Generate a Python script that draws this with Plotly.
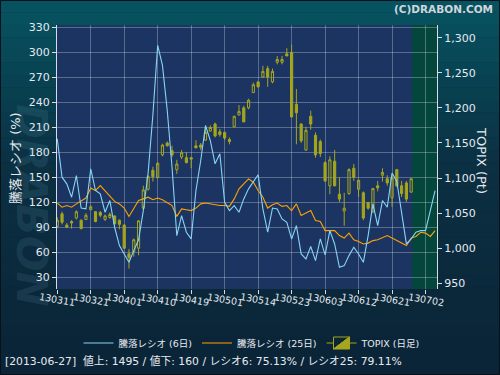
import plotly.graph_objects as go

# ---------------- data ----------------
tick_labels = ["130311", "130321", "130401", "130410", "130419", "130501",
               "130514", "130523", "130603", "130612", "130621", "130702"]
tick_index = [0, 7, 14, 21, 28, 35, 42, 49, 56, 63, 70, 77]

ratio6 = [196, 150, 142, 126, 152, 113, 112, 160, 134, 130, 108, 122, 90, 68, 58, 48,
          62, 75, 110, 155, 225, 308, 284, 230, 162, 80, 104, 84, 76, 134, 170, 212,
          194, 166, 178, 120, 110, 116, 108, 124, 136, 145, 153, 112, 84, 113, 112, 100,
          96, 76, 92, 58, 52, 67, 50, 76, 57, 86, 70, 42, 44, 56, 66, 58, 48, 80,
          118, 92, 122, 114, 155, 145, 110, 70, 76, 84, 86, 86, 110, 134]

ratio25 = [119, 114, 116, 114, 118, 121, 125, 137, 134, 140, 134, 128, 121, 118, 113, 103,
           112, 122, 124, 126, 123, 125, 123, 120, 116, 103, 112, 111, 110, 113, 118, 119,
           118, 117, 116, 116, 115, 124, 136, 142, 148, 144, 134, 126, 113, 117, 119, 115,
           116, 110, 118, 104, 107, 110, 98, 97, 86, 86, 86, 80, 77, 83, 75, 73, 70, 71,
           74, 75, 78, 80, 77, 74, 71, 68, 77, 79, 84, 83, 79, 86]

topix_open = [1031, 1049, 1033, 1038, 1043, 1040, 1041, 1055, 1052, 1051, 1041, 1044, 1046, 1040, 1033, 992,
              995, 1000, 1057, 1084, 1111, 1101, 1133, 1150, 1139, 1112, 1130, 1129, 1129, 1146, 1147, 1154,
              1167, 1177, 1166, 1165, 1155, 1173, 1190, 1200, 1200, 1222, 1237, 1244, 1256, 1237, 1265, 1265,
              1277, 1279, 1205, 1177, 1140, 1188, 1161, 1152, 1122, 1089, 1124, 1077, 1053, 1078, 1114, 1084,
              1079, 1065, 1052, 1089, 1104, 1099, 1072, 1112, 1089, 1093, 1080]
topix_high = [1044, 1052, 1036, 1040, 1054, 1041, 1050, 1061, 1053, 1053, 1048, 1051, 1047, 1041, 1034, 999,
              1014, 1040, 1089, 1104, 1116, 1123, 1149, 1152, 1146, 1126, 1140, 1137, 1130, 1154, 1150, 1174,
              1175, 1179, 1170, 1166, 1158, 1189, 1204, 1203, 1213, 1236, 1238, 1260, 1260, 1256, 1274, 1274,
              1285, 1290, 1227, 1178, 1173, 1196, 1165, 1155, 1124, 1131, 1140, 1101, 1079, 1114, 1120, 1097,
              1081, 1066, 1085, 1096, 1114, 1104, 1104, 1113, 1096, 1096, 1100]
topix_low = [1029, 1034, 1029, 1028, 1041, 1027, 1040, 1054, 1037, 1044, 1039, 1042, 1032, 1027, 999, 971,
             988, 990, 1055, 1082, 1095, 1099, 1131, 1145, 1130, 1106, 1127, 1121, 1114, 1143, 1140, 1153,
             1166, 1158, 1159, 1154, 1148, 1172, 1189, 1180, 1198, 1221, 1229, 1243, 1230, 1235, 1262, 1262,
             1274, 1187, 1148, 1150, 1139, 1169, 1129, 1130, 1094, 1077, 1088, 1066, 1032, 1076, 1096, 1073,
             1040, 1055, 1050, 1081, 1095, 1089, 1059, 1087, 1073, 1066, 1079]
topix_close = [1040, 1037, 1030, 1036, 1052, 1028, 1047, 1059, 1038, 1047, 1046, 1048, 1035, 1034, 1000, 987,
               1012, 1039, 1083, 1102, 1102, 1121, 1147, 1146, 1133, 1120, 1136, 1122, 1127, 1143, 1144, 1165,
               1172, 1160, 1162, 1157, 1152, 1188, 1195, 1180, 1211, 1233, 1230, 1252, 1244, 1252, 1269, 1269,
               1274, 1187, 1193, 1153, 1168, 1177, 1133, 1135, 1096, 1126, 1089, 1070, 1057, 1112, 1101, 1097,
               1043, 1057, 1085, 1086, 1108, 1093, 1100, 1089, 1078, 1070, 1099]

legend_names = ["騰落レシオ (6日)", "騰落レシオ (25日)", "TOPIX (日足)"]
status_text = "[2013-06-27]  値上: 1495 / 値下: 160 / レシオ6: 75.13% / レシオ25: 79.11%"

# ---------------- styling constants ----------------
W, H = 500, 375
ML, MR, MT, MB = 57, 63, 25, 86
PW, PH = W - ML - MR, H - MT - MB
FONT = "DejaVu Sans, Noto Sans CJK JP, sans-serif"
TXT = "#e6eaf0"
CANDLE = "#a6a61c"


def px_x(x):
    return (x - ML) / PW


def px_y(y):
    return (H - MB - y) / PH


fig = go.Figure()

fig.add_trace(go.Candlestick(
    x=list(range(len(topix_open))), open=topix_open, high=topix_high,
    low=topix_low, close=topix_close, yaxis="y", name=legend_names[2],
    increasing=dict(line=dict(color=CANDLE, width=1), fillcolor="rgba(0,0,0,0)"),
    decreasing=dict(line=dict(color=CANDLE, width=1), fillcolor=CANDLE),
    whiskerwidth=0, legendrank=3, hoverinfo="skip"))

fig.add_trace(go.Scatter(
    x=list(range(len(ratio25))), y=ratio25, mode="lines", yaxis="y2",
    line=dict(color="#ffa200", width=1.1), name=legend_names[1], legendrank=2,
    hoverinfo="skip"))
fig.add_trace(go.Scatter(
    x=list(range(len(ratio6))), y=ratio6, mode="lines", yaxis="y2",
    line=dict(color="#88d4f4", width=1.1), name=legend_names[0], legendrank=1,
    hoverinfo="skip"))

# background bands (gradient imitation)
shapes = []
top_c = (7, 84, 98)
mid_c = (11, 48, 66)
bot_c = (12, 36, 55)
n = 30
for k in range(n):
    y0 = k * H / n
    y1 = (k + 1) * H / n
    t = (k + 0.5) / n
    if t < 0.45:
        u = t / 0.45
        c = [int(top_c[j] + (mid_c[j] - top_c[j]) * u) for j in range(3)]
    else:
        u = (t - 0.45) / 0.55
        c = [int(mid_c[j] + (bot_c[j] - mid_c[j]) * u) for j in range(3)]
    shapes.append(dict(type="rect", xref="paper", yref="paper",
                       x0=px_x(0), x1=px_x(W), y0=px_y(y1), y1=px_y(y0) + 0.001,
                       fillcolor="rgb(%d,%d,%d)" % tuple(c), line=dict(width=0),
                       layer="below"))
# plot background
shapes.append(dict(type="rect", xref="paper", yref="paper", x0=0, x1=1, y0=0, y1=1,
                   fillcolor="#1b3461", line=dict(width=0), layer="below"))
# green zone at the right end
shapes.append(dict(type="rect", xref="x", yref="paper", x0=74.2, x1=79.4, y0=0, y1=1,
                   fillcolor="#04463b", line=dict(width=0), layer="below"))
# outer border
shapes.append(dict(type="rect", xref="paper", yref="paper",
                   x0=px_x(0.5), x1=px_x(W - 0.5), y0=px_y(H - 0.5), y1=px_y(0.5),
                   line=dict(color="#06121a", width=1), layer="above"))

annotations = []
for xi, lab in zip(tick_index, tick_labels):
    annotations.append(dict(x=xi, y=0, xref="x", yref="paper", text=lab,
                            showarrow=False, yanchor="top", xanchor="center",
                            yshift=-1, textangle=10, borderpad=0,
                            font=dict(family=FONT, size=9.5, color=TXT)))
annotations += [
    dict(x=px_x(32), y=px_y(205), xref="paper", yref="paper", text="<b><i>DRABON</i></b>",
         showarrow=False, textangle=90, xanchor="center", yanchor="middle",
         font=dict(family=FONT, size=42, color="rgba(120,175,200,0.13)")),
    dict(x=px_x(15), y=px_y(158), xref="paper", yref="paper", text="騰落レシオ (%)",
         showarrow=False, textangle=-90, xanchor="center", yanchor="middle",
         font=dict(family=FONT, size=13, color=TXT)),
    dict(x=px_x(482), y=px_y(160), xref="paper", yref="paper", text="TOPIX (Pt)",
         showarrow=False, textangle=90, xanchor="center", yanchor="middle",
         font=dict(family=FONT, size=13, color=TXT)),
    dict(x=px_x(494), y=px_y(9), xref="paper", yref="paper", text="<b>(C)DRABON.COM</b>",
         showarrow=False, xanchor="right", yanchor="middle", borderpad=0,
         font=dict(family=FONT, size=10.5, color="#d0d6dc")),
    dict(x=px_x(4), y=px_y(362), xref="paper", yref="paper", text=status_text,
         showarrow=False, xanchor="left", yanchor="middle", borderpad=0,
         font=dict(family=FONT, size=10.8, color=TXT)),
]

axis_line = "#d6dde8"
fig.update_layout(
    width=W, height=H,
    margin=dict(l=ML, r=MR, t=MT, b=MB, pad=0),
    paper_bgcolor="#0c2538", plot_bgcolor="rgba(0,0,0,0)",
    font=dict(family=FONT, color=TXT),
    boxgap=0.35,
    showlegend=True,
    legend=dict(orientation="h", x=px_x(252), xanchor="center", y=px_y(343),
                yanchor="middle", font=dict(family=FONT, size=9.5, color=TXT),
                bgcolor="rgba(0,0,0,0)", itemwidth=30),
    xaxis=dict(range=[-0.05, 79.4], tickvals=tick_index, showticklabels=False,
               ticks="outside", ticklen=4, tickcolor=axis_line,
               showgrid=True, gridcolor="rgba(255,255,255,0.28)", gridwidth=1,
               zeroline=False, showline=False, rangeslider=dict(visible=False),
               fixedrange=True),
    yaxis=dict(side="right", range=[941.9, 1318.1],
               tickvals=[950, 1000, 1050, 1100, 1150, 1200, 1250, 1300],
               tickformat=",d", showgrid=False, zeroline=False,
               showline=True, linecolor=axis_line, linewidth=1,
               ticks="outside", ticklen=4, tickcolor=axis_line,
               tickfont=dict(family=FONT, size=11, color=TXT)),
    yaxis2=dict(overlaying="y", side="left", range=[16, 332.4],
                tickvals=[30, 60, 90, 120, 150, 180, 210, 240, 270, 300, 330],
                showgrid=True, gridcolor="rgba(255,255,255,0.28)", gridwidth=1,
                zeroline=False, showline=True, linecolor=axis_line, linewidth=1,
                ticks="outside", ticklen=4, tickcolor=axis_line,
                tickfont=dict(family=FONT, size=11, color=TXT)),
    shapes=shapes,
    annotations=annotations,
)

fig.write_html("out.html", post_script="document.body.style.margin='0';",
               config={"displayModeBar": False})
